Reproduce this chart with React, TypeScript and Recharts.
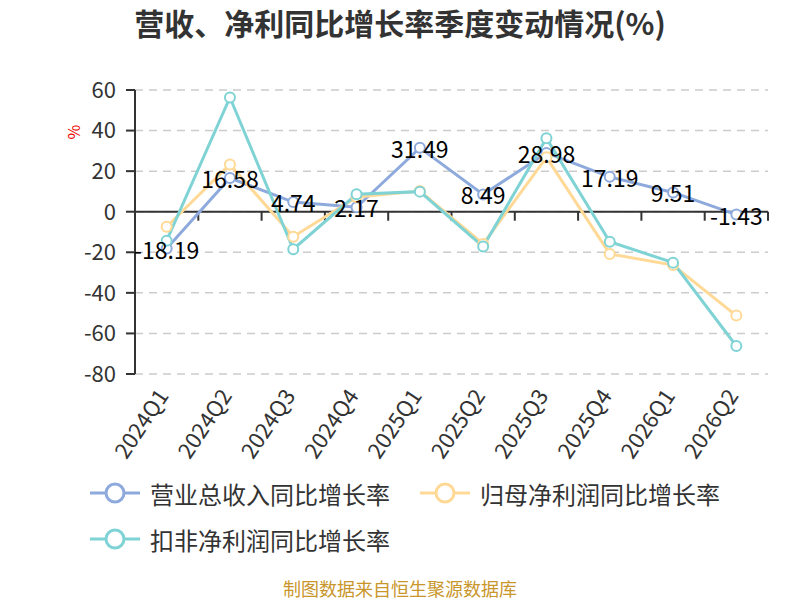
import React from "react";
import {
  LineChart, Line, XAxis, YAxis, CartesianGrid, ReferenceLine, LabelList,
} from "recharts";

const quarters = [
  "2024Q1", "2024Q2", "2024Q3", "2024Q4", "2025Q1",
  "2025Q2", "2025Q3", "2025Q4", "2026Q1", "2026Q2",
];
const revenueYoY = [-18.19, 16.58, 4.74, 2.17, 31.49, 8.49, 28.98, 17.19, 9.51, -1.43];
const netProfitYoY = [-7.4, 23.3, -12.3, 7.2, 10.2, -15.9, 26.8, -20.8, -26.3, -51.2];
const deductedProfitYoY = [-14.3, 56.3, -18.5, 8.6, 9.9, -17.2, 36.2, -14.8, -25.1, -66.2];
const yTicks = [-80, -60, -40, -20, 0, 20, 40, 60];

const seriesNames = ["营业总收入同比增长率", "归母净利润同比增长率", "扣非净利润同比增长率"];
const seriesColors = ["#8eaadc", "#ffd995", "#7fd3d5"];

const data = quarters.map((q, i) => ({
  q,
  rev: revenueYoY[i],
  net: netProfitYoY[i],
  ded: deductedProfitYoY[i],
}));

const FONT = "'Noto Sans CJK SC', 'Noto Sans', sans-serif";

function XTick(props: any) {
  const { x, y, payload } = props;
  return (
    <g transform={`translate(${x + 3},${y + 14})`}>
      <text transform="rotate(-56)" textAnchor="end" fontSize={22} fill="#333" fontFamily={FONT}>
        {payload.value}
      </text>
    </g>
  );
}

// zero line with the category boundary ticks hanging from it
function ZeroAxis(props: any) {
  const { x1, y1, x2 } = props;
  const step = (x2 - x1) / quarters.length;
  return (
    <g>
      <line x1={x1} y1={y1} x2={x2} y2={y1} stroke="#333" strokeWidth={2} />
      {quarters.map((_, i) => (
        <line key={i} x1={x1 + step * (i + 1)} y1={y1} x2={x1 + step * (i + 1)} y2={y1 + 9} stroke="#333" strokeWidth={2} />
      ))}
    </g>
  );
}

function ValueLabel(props: any) {
  const { x, y, value } = props;
  return (
    <text x={x} y={y} textAnchor="middle" dominantBaseline="central" fontSize={23} fill="#000" fontFamily={FONT}>
      {value.toFixed(2)}
    </text>
  );
}

function PercentLabel(props: any) {
  const { viewBox } = props;
  const x = viewBox.x - 2;
  const y = viewBox.y + 42;
  return (
    <text x={x} y={y} transform={`rotate(-90 ${x} ${y})`} textAnchor="middle" dominantBaseline="central" fontSize={16} fill="#e00" fontFamily={FONT}>
      %
    </text>
  );
}

function LegendIcon({ color }: { color: string }) {
  return (
    <svg width={50} height={24} style={{ marginRight: 10 }}>
      <line x1={0} y1={12} x2={50} y2={12} stroke={color} strokeWidth={3} />
      <circle cx={25} cy={12} r={9} fill="#fff" stroke={color} strokeWidth={3} />
    </svg>
  );
}

export default function App() {
  const dot = (c: string) => ({ r: 5, fill: "#fff", stroke: c, strokeWidth: 2 });
  return (
    <div style={{ position: "absolute", left: 0, top: 0, width: 800, height: 600, background: "#fff", fontFamily: FONT, overflow: "hidden" }}>
      <div style={{ position: "absolute", top: 1, left: 0, width: 800, textAlign: "center", fontSize: 30, lineHeight: "42px", fontWeight: 700, color: "#333" }}>
        营收、净利同比增长率季度变动情况(%)
      </div>
      <LineChart width={800} height={600} data={data} margin={{ top: 90, right: 32, left: 75, bottom: 126 }}>
        <CartesianGrid vertical={false} stroke="#ccc" strokeDasharray="8 6" strokeWidth={1.5} />
        <XAxis
          dataKey="q"
          scale="band"
          axisLine={false}
          tickLine={false}
          height={100}
          interval={0}
          tick={<XTick />}
        />
        <YAxis
          domain={[-80, 60]}
          ticks={yTicks}
          width={60}
          axisLine={{ stroke: "#333", strokeWidth: 2 }}
          tickLine={{ stroke: "#333", strokeWidth: 2 }}
          tickSize={9}
          tickMargin={10}
          tick={{ fontSize: 22, fill: "#333", fontFamily: FONT }}
          label={<PercentLabel />}
        />
        <ReferenceLine y={0} shape={<ZeroAxis />} />
        <Line dataKey="rev" stroke={seriesColors[0]} strokeWidth={3} dot={dot(seriesColors[0])} isAnimationActive={false} />
        <Line dataKey="net" stroke={seriesColors[1]} strokeWidth={3} dot={dot(seriesColors[1])} isAnimationActive={false} />
        <Line dataKey="ded" stroke={seriesColors[2]} strokeWidth={3} dot={dot(seriesColors[2])} isAnimationActive={false} />
        <Line dataKey="rev" stroke="none" dot={false} activeDot={false} legendType="none" isAnimationActive={false}>
          <LabelList dataKey="rev" content={<ValueLabel />} />
        </Line>
      </LineChart>
      <div style={{ position: "absolute", left: 90, top: 478, width: 700, display: "flex", flexWrap: "wrap", rowGap: 16, fontSize: 24, color: "#333" }}>
        {seriesNames.map((name, i) => (
          <div key={name} style={{ display: "flex", alignItems: "center", height: 30, marginRight: 30 }}>
            <LegendIcon color={seriesColors[i]} />
            <span>{name}</span>
          </div>
        ))}
      </div>
      <div style={{ position: "absolute", left: 0, top: 578, width: 800, textAlign: "center", fontSize: 18, lineHeight: "20px", color: "#c9962c" }}>
        制图数据来自恒生聚源数据库
      </div>
    </div>
  );
}
